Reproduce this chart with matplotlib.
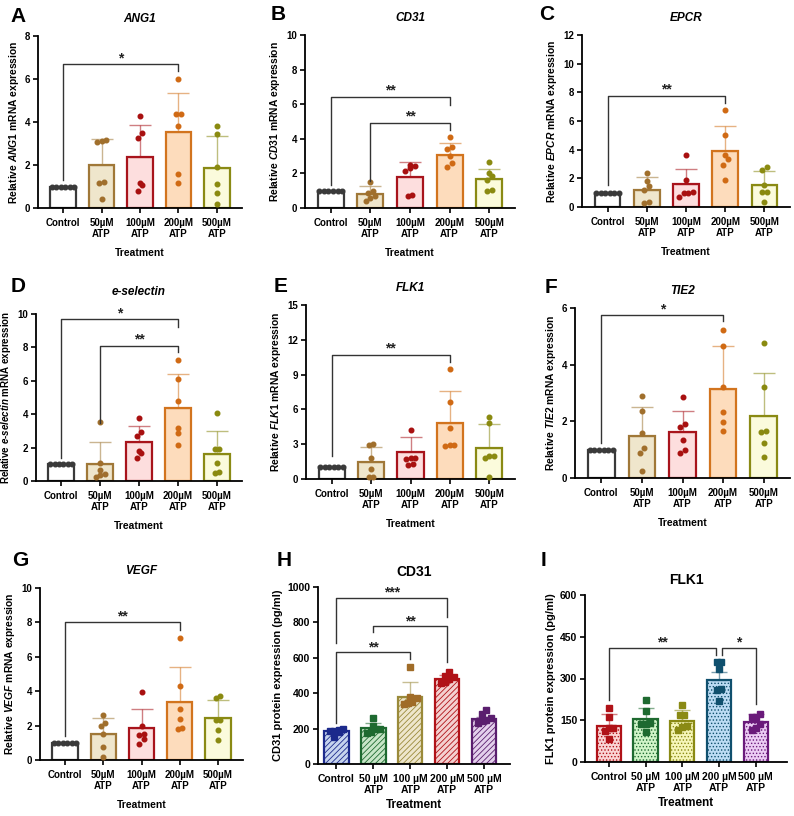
import numpy as np
import matplotlib
matplotlib.use('Agg')
import matplotlib.pyplot as plt

plt.rcParams['font.family'] = ['Liberation Sans', 'DejaVu Sans']
plt.rcParams['font.weight'] = 'bold'
plt.rcParams['mathtext.fontset'] = 'custom'
plt.rcParams['mathtext.it'] = 'Liberation Sans:italic:bold'
plt.rcParams['mathtext.rm'] = 'Liberation Sans:bold'
plt.rcParams['mathtext.bf'] = 'Liberation Sans:bold'
plt.rcParams['hatch.linewidth'] = 0.6

# categories
cats_mrna = ['Control', '50µM\nATP', '100µM\nATP', '200µM\nATP', '500µM\nATP']
cats_prot = ['Control', '50 µM\nATP', '100 µM\nATP', '200 µM\nATP', '500 µM\nATP']

# mRNA panels (mean, SD, individual points)
ang1_mean = [1.0, 2.0, 2.35, 3.52, 1.85]
ang1_sd = [0.0, 1.2, 1.53, 1.85, 1.48]
ang1_pts = [[1, 1, 1, 1, 1, 1],
            [3.15, 3.1, 3.05, 1.2, 1.15, 0.42],
            [4.3, 3.5, 3.25, 1.18, 1.05, 0.78],
            [6.0, 4.35, 4.35, 3.8, 1.6, 1.15],
            [3.8, 3.45, 1.9, 1.1, 0.7, 0.2]]

cd31_mean = [1.0, 0.8, 1.77, 3.08, 1.65]
cd31_sd = [0.0, 0.45, 0.88, 0.67, 0.63]
cd31_pts = [[1, 1, 1, 1, 1, 1],
            [1.5, 1.0, 0.85, 0.7, 0.55, 0.4],
            [2.5, 2.45, 2.12, 0.77, 0.71, 2.3],
            [4.1, 3.55, 3.4, 3.0, 2.6, 2.35],
            [2.65, 2.0, 1.85, 1.6, 1.05, 1.0]]

epcr_mean = [1.0, 1.22, 1.6, 3.92, 1.55]
epcr_sd = [0.0, 0.85, 1.05, 1.73, 0.97]
epcr_pts = [[1, 1, 1, 1, 1, 1],
            [2.4, 1.8, 1.45, 1.2, 0.35, 0.3],
            [3.6, 1.85, 1.05, 1.0, 0.95, 0.7],
            [6.75, 5.05, 3.65, 3.35, 2.95, 1.9],
            [2.8, 2.55, 1.55, 1.05, 1.05, 0.35]]

esel_mean = [1.0, 1.02, 2.35, 4.38, 1.62]
esel_sd = [0.0, 1.3, 0.93, 2.02, 1.38]
esel_pts = [[1, 1, 1, 1, 1, 1],
            [3.55, 1.1, 0.65, 0.4, 0.35, 0.25],
            [3.8, 2.95, 2.7, 1.8, 1.65, 1.35],
            [7.25, 6.1, 4.8, 3.2, 2.85, 2.15],
            [4.1, 1.9, 1.9, 1.05, 0.55, 0.45]]

flk1_mean = [1.0, 1.45, 2.35, 4.85, 2.65]
flk1_sd = [0.0, 1.35, 1.25, 2.7, 2.05]
flk1_pts = [[1, 1, 1, 1, 1, 1],
            [3.0, 2.9, 1.8, 0.85, 0.2, 0.15],
            [4.25, 1.85, 1.85, 1.75, 1.3, 1.2],
            [9.5, 6.6, 4.4, 2.95, 2.95, 2.85],
            [5.35, 4.8, 2.0, 1.95, 1.85, 0.2]]

tie2_mean = [1.0, 1.5, 1.63, 3.15, 2.2]
tie2_sd = [0.0, 1.0, 0.72, 1.5, 1.5]
tie2_pts = [[1, 1, 1, 1, 1, 1],
            [2.9, 2.35, 1.58, 1.05, 0.9, 0.25],
            [2.85, 1.9, 1.8, 1.35, 1.0, 0.9],
            [5.22, 4.65, 3.2, 2.32, 1.98, 1.65],
            [4.78, 3.2, 1.65, 1.62, 1.22, 0.73]]

vegf_mean = [1.0, 1.5, 1.85, 3.38, 2.45]
vegf_sd = [0.0, 0.95, 1.1, 2.04, 1.05]
vegf_pts = [[1, 1, 1, 1, 1, 1],
            [2.62, 2.15, 1.95, 1.5, 0.75, 0.15],
            [3.95, 2.0, 1.5, 1.45, 1.2, 0.95],
            [7.1, 4.3, 2.95, 2.4, 1.85, 1.8],
            [3.75, 3.6, 2.35, 2.3, 1.75, 1.15]]

# protein panels
cd31p_mean = [185, 205, 378, 480, 255]
cd31p_sd = [15, 27, 84, 25, 13]
cd31p_pts = [[195, 192, 188, 185, 180, 150],
             [260, 215, 200, 195, 180, 175],
             [548, 378, 372, 350, 345, 340],
             [520, 500, 490, 480, 465, 460],
             [307, 285, 260, 250, 245, 230]]

flk1p_mean = [130, 154, 148, 296, 144]
flk1p_sd = [41, 41, 39, 28, 27]
flk1p_pts = [[193, 162, 123, 123, 112, 82],
             [221, 183, 140, 138, 136, 108],
             [204, 168, 168, 130, 124, 116],
             [360, 360, 335, 263, 257, 219],
             [174, 163, 160, 136, 121, 115]]

# colours
mrna_edge = ['#3a3a3a', '#a07838', '#a8141c', '#d2741e', '#8a8a14']
mrna_fill = ['#ffffff', '#efe6cc', '#fddede', '#fddcbc', '#fbfbdc']
mrna_pt = ['#3a3a3a', '#a06f2c', '#a81010', '#d06a14', '#8a8a10']
h_edge = ['#1c2a8c', '#1e6a30', '#9a8a3a', '#b01218', '#5a1e6e']
h_fill = ['#c6d4ee', '#c8e6c8', '#eee6cc', '#f4d0d0', '#e4d0ec']
h_pt = ['#1c2a8c', '#1e6a30', '#a06c28', '#b01218', '#5a1e6e']
i_edge = ['#b01218', '#1e6a30', '#8a8a14', '#10506e', '#6a1a7a']
i_fill = ['#fad4d4', '#d0f4c8', '#f6f6b8', '#bcdcf4', '#ecccf4']

W, H = 794, 816
fig = plt.figure(figsize=(W / 100, H / 100), dpi=100)


def mkax(l, t, r, b):
    return fig.add_axes([l / W, 1 - b / H, (r - l) / W, (b - t) / H])


def swarm(vals, thr, d):
    # rows of points that sit at nearly the same height are spread side by side
    vals = np.asarray(vals, float)
    order = np.argsort(vals)
    offs = np.zeros(len(vals))
    groups = []
    cur = [order[0]]
    for i in order[1:]:
        if vals[i] - vals[cur[0]] < thr:
            cur.append(i)
        else:
            groups.append(cur)
            cur = [i]
    groups.append(cur)
    for g in groups:
        n = len(g)
        for k, i in enumerate(g):
            offs[i] = (k - (n - 1) / 2) * d
    return offs


def panel(ax, mean, sd, pts, ytop, yticks, edge, fill, ptc, cats, ylabel, xlim,
          hatch=None, marker='o', ms=3.3, big=False):
    x = np.arange(len(mean))
    bw = 0.66
    if hatch is None:
        ax.bar(x, mean, bw, color=fill, edgecolor=edge, linewidth=1.6, zorder=2)
    else:
        ax.bar(x, mean, bw, color=fill, edgecolor=edge, linewidth=0, hatch=hatch, zorder=2)
        ax.bar(x, mean, bw, color='none', edgecolor=edge, linewidth=1.6, zorder=2)
    for i in range(len(mean)):
        if sd[i] > 0:
            ax.errorbar(x[i], mean[i], yerr=[[0], [sd[i]]], fmt='none', ecolor=edge[i],
                        alpha=0.55, elinewidth=1.0, capsize=8 if not big else 6,
                        capthick=1.0, zorder=3)
        offs = swarm(pts[i], 0.035 * ytop, 0.115)
        ax.plot(x[i] + offs, pts[i], marker, color=ptc[i], ms=ms, ls='none', zorder=4,
                clip_on=False)
    ax.set_ylim(0, ytop)
    ax.set_xlim(*xlim)
    ax.set_yticks(yticks)
    ax.set_xticks(x)
    fs = 7.5 if big else 7
    ax.set_xticklabels(cats, fontsize=fs, fontweight='bold')
    ax.tick_params(axis='y', labelsize=fs, width=1.2, length=3.5, pad=2)
    ax.tick_params(axis='x', width=1.2, length=3.5)
    for lab in ax.get_yticklabels():
        lab.set_fontweight('bold')
    for s in ['top', 'right']:
        ax.spines[s].set_visible(False)
    for s in ['left', 'bottom']:
        ax.spines[s].set_linewidth(1.3)
    ax.set_xlabel('Treatment', fontsize=8.5 if big else 7.5, fontweight='bold',
                  labelpad=3 if big else 6)
    ax.set_ylabel(ylabel, fontsize=8 if big else 7.4, fontweight='bold', labelpad=3)


def bracket(ax, x1, x2, y, y1, y2, txt, fs=10, dy=0.0):
    ax.plot([x1, x1, x2, x2], [y1, y, y, y2], color='#333333', lw=1.0, zorder=5,
            clip_on=False)
    ax.text((x1 + x2) / 2, y + dy, txt, ha='center', va='bottom', fontsize=fs,
            fontweight='bold', color='#222222', clip_on=False)


xl = (-0.65, 4.65)

# A
ax = mkax(38, 36, 242, 208)
panel(ax, ang1_mean, ang1_sd, ang1_pts, 8, [0, 2, 4, 6, 8], mrna_edge, mrna_fill, mrna_pt,
      cats_mrna, r'Relative $\mathit{ANG1}$ mRNA expression', xl)
bracket(ax, 0, 3, 6.69, 1.32, 6.35, '*', dy=-0.05)
ax.set_title('ANG1', fontsize=8.5, fontweight='bold', style='italic', pad=10)

# B
ax = mkax(305, 35, 515, 208)
panel(ax, cd31_mean, cd31_sd, cd31_pts, 10, [0, 2, 4, 6, 8, 10], mrna_edge, mrna_fill, mrna_pt,
      cats_mrna, r'Relative $\mathit{CD31}$ mRNA expression', xl)
bracket(ax, 0, 3, 6.44, 1.35, 5.96, '**', dy=-0.05)
bracket(ax, 1, 3, 4.94, 1.58, 4.5, '**', dy=-0.05)
ax.set_title('CD31', fontsize=8.5, fontweight='bold', style='italic', pad=10)

# C
ax = mkax(582, 35, 790, 207)
panel(ax, epcr_mean, epcr_sd, epcr_pts, 12, [0, 2, 4, 6, 8, 10, 12], mrna_edge, mrna_fill, mrna_pt,
      cats_mrna, r'Relative $\mathit{EPCR}$ mRNA expression', xl)
bracket(ax, 0, 3, 7.77, 1.55, 7.28, '**', dy=-0.05)
ax.set_title('EPCR', fontsize=8.5, fontweight='bold', style='italic', pad=10)

# D
ax = mkax(36, 314, 242, 481)
panel(ax, esel_mean, esel_sd, esel_pts, 10, [0, 2, 4, 6, 8, 10], mrna_edge, mrna_fill, mrna_pt,
      cats_mrna, r'Relative $\mathit{e}$-$\mathit{selectin}$ mRNA expression', xl)
ax.yaxis.label.set_fontsize(7.0)
bracket(ax, 0, 3, 9.68, 1.36, 9.24, '*', dy=-0.05)
bracket(ax, 1, 3, 8.1, 3.45, 7.74, '**', dy=-0.05)
ax.set_title('e-selectin', fontsize=8.5, fontweight='bold', style='italic', pad=14)

# E
ax = mkax(306, 305, 515, 479)
panel(ax, flk1_mean, flk1_sd, flk1_pts, 15, [0, 3, 6, 9, 12, 15], mrna_edge, mrna_fill, mrna_pt,
      cats_mrna, r'Relative $\mathit{FLK1}$ mRNA expression', xl)
bracket(ax, 0, 3, 10.7, 1.98, 10.1, '**', dy=-0.05)
ax.set_title('FLK1', fontsize=8.5, fontweight='bold', style='italic', pad=10)

# F
ax = mkax(575, 308, 790, 478)
panel(ax, tie2_mean, tie2_sd, tie2_pts, 6, [0, 2, 4, 6], mrna_edge, mrna_fill, mrna_pt,
      cats_mrna, r'Relative $\mathit{TIE2}$ mRNA expression', xl)
bracket(ax, 0, 3, 5.75, 1.24, 5.53, '*', dy=-0.05)
ax.set_title('TIE2', fontsize=8.5, fontweight='bold', style='italic', pad=10)

# G
ax = mkax(40, 588, 243, 760)
panel(ax, vegf_mean, vegf_sd, vegf_pts, 10, [0, 2, 4, 6, 8, 10], mrna_edge, mrna_fill, mrna_pt,
      cats_mrna, r'Relative $\mathit{VEGF}$ mRNA expression', xl)
bracket(ax, 0, 3, 8.0, 1.39, 7.58, '**', dy=-0.05)
ax.set_title('VEGF', fontsize=8.5, fontweight='bold', style='italic', pad=10)

# H
ax = mkax(318, 587, 510, 764)
panel(ax, cd31p_mean, cd31p_sd, cd31p_pts, 1000, [0, 200, 400, 600, 800, 1000], h_edge, h_fill, h_pt,
      cats_prot, 'CD31 protein expression (pg/ml)', (-0.5, 4.7), hatch='//////', marker='s',
      ms=3.8, big=True)
bracket(ax, 0, 3, 937, 682, 828, '***', dy=-10)
bracket(ax, 1, 3, 778, 745, 574, '**', dy=-10)
bracket(ax, 0, 2, 630, 230, 592, '**', dy=-10)
ax.set_title('CD31', fontsize=10, fontweight='bold', pad=8)

# I
ax = mkax(585, 595, 787, 762)
panel(ax, flk1p_mean, flk1p_sd, flk1p_pts, 600, [0, 150, 300, 450, 600], i_edge, i_fill, i_edge,
      cats_prot, 'FLK1 protein expression (pg/ml)', (-0.65, 4.85), hatch='.....', marker='s',
      ms=3.8, big=True)
bracket(ax, 0, 2.93, 410, 222, 386, '**', dy=-6)
bracket(ax, 3.07, 4, 410, 386, 207, '*', dy=-6)
ax.set_title('FLK1', fontsize=10, fontweight='bold', pad=8)

# panel letters
letters = ['A', 'B', 'C', 'D', 'E', 'F', 'G', 'H', 'I']
lx = [18, 278, 547, 18, 281, 551, 20, 284, 544]
ly = [16, 15, 14, 286, 286, 287, 560, 560, 561]
for s, px, py in zip(letters, lx, ly):
    fig.text(px / W, 1 - py / H, s, fontsize=15, fontweight='bold', ha='center', va='center')

fig.savefig('out.png', dpi=100)
